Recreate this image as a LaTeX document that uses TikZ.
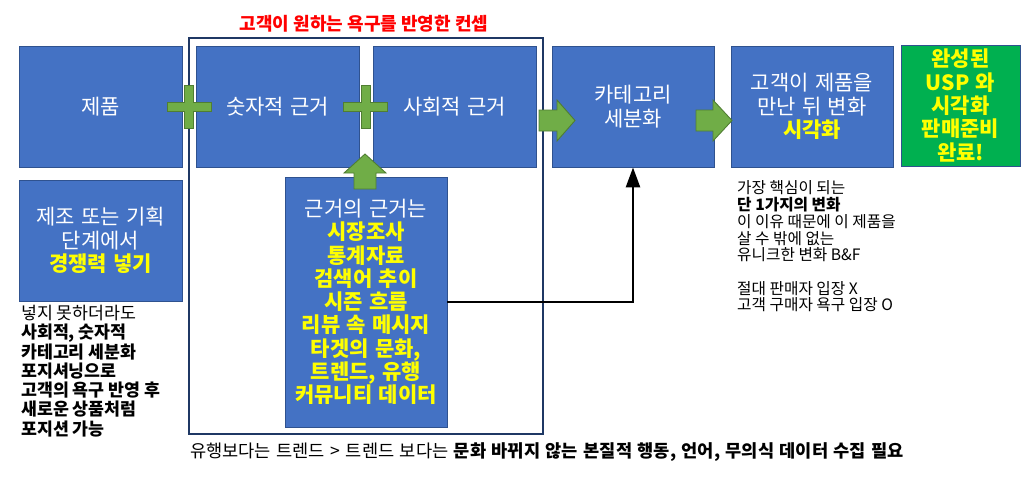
\documentclass[tikz,border=0pt]{standalone}
\usepackage{fontspec}
\setmainfont{Noto Sans CJK KR}
\usetikzlibrary{calc,arrows.meta}
\definecolor{boxblue}{HTML}{4472C4}
\definecolor{boxline}{HTML}{2F528F}
\definecolor{arrgreen}{HTML}{70AD47}
\definecolor{arrline}{HTML}{507E32}
\definecolor{donegreen}{HTML}{00B050}
\definecolor{framenavy}{HTML}{1F3864}
\definecolor{hiyellow}{HTML}{FFFF00}
\newcommand\myboxfont{\fontsize{21}{23.3}\selectfont\spaceskip=0.3em\relax}
\newcommand\mybottomfont{\fontsize{17.6}{19}\selectfont\spaceskip=0.31em\relax}
\newcommand\myhl[1]{{\bfseries\color{hiyellow}#1}}
\tikzset{
  bluebox/.style={draw=boxline, line width=0.8pt, fill=boxblue, text=white,
    inner sep=0pt, align=center, font=\myboxfont},
  donebox/.style={draw=boxline, line width=0.8pt, fill=donegreen, text=hiyellow,
    inner sep=0pt, align=center, font=\myboxfont\bfseries},
  framebox/.style={draw=framenavy, line width=2pt, inner sep=0pt},
  greenshape/.style={fill=arrgreen, draw=arrline, line width=0.9pt, line join=miter},
  titletext/.style={text=red, font=\fontsize{18}{20}\selectfont\bfseries, inner sep=0pt},
  leftnote/.style={align=left, inner sep=0pt, font=\fontsize{17.3}{19.3}\selectfont},
  rightnote/.style={align=left, inner sep=0pt, font=\fontsize{15.7}{16.7}\selectfont},
  bottomnote/.style={inner sep=0pt, align=left, font=\mybottomfont},
  linkarrow/.style={line width=2.6pt, -{Triangle[length=20pt,width=14pt]}}
}
\begin{document}
\begin{tikzpicture}[x=1pt,y=-1pt]
\useasboundingbox (0,0) rectangle (1024,491);
\fill[white] (0,0) rectangle (1024,491);

% title and frame
\node[titletext] (title) at (364,24) {고객이 원하는 욕구를 반영한 컨셉};
\node[framebox, minimum width=354, minimum height=396] (frame) at (366,236) {};

% top row
\node[bluebox, minimum width=163, minimum height=121] (p1) at (100.5,106.5) {제품};
\node[bluebox, minimum width=163, minimum height=121] (p2) at (277.5,106.5) {숫자적 근거};
\node[bluebox, minimum width=163, minimum height=121] (p3) at (454.5,106.5) {사회적 근거};
\node[bluebox, minimum width=162, minimum height=121] (p4) at (633,106.5) {카테고리\\세분화};
\node[bluebox, minimum width=162, minimum height=121] (p5) at (812,106.5) {고객이 제품을\\만난 뒤 변화\\\myhl{시각화}};
\node[donebox, minimum width=119, minimum height=121] (p6) at (960.5,105.5) {완성된\\USP 와\\시각화\\판매준비\\완료!};

% lower boxes
\node[bluebox, minimum width=163, minimum height=121] (p7) at (100.5,240.5) {제조 또는 기획\\단계에서\\\myhl{경쟁력 넣기}};
\node[bluebox, minimum width=162, minimum height=250] (p8) at (366,302) {근거의 근거는\\\myhl{시장조사}\\\myhl{통계자료}\\\myhl{검색어 추이}\\\myhl{시즌 흐름}\\\myhl{리뷰 속 메시지}\\\myhl{타겟의 문화,}\\\myhl{트렌드, 유행}\\\myhl{커뮤니티 데이터}};

% plus signs
\coordinate (c1) at (189,107);
\coordinate (c2) at (365.5,107);
\foreach \c in {c1,c2}{
  \path[greenshape] (\c) ++(-22,-4.5) -- ++(17.5,0) -- ++(0,-17) -- ++(9,0) -- ++(0,17)
    -- ++(17.5,0) -- ++(0,9) -- ++(-17.5,0) -- ++(0,17) -- ++(-9,0) -- ++(0,-17)
    -- ++(-17.5,0) -- cycle;
}

% block arrows
\path[greenshape] (539,110) -- (557,110) -- (557,100) -- (575,120.5) -- (557,141)
  -- (557,131) -- (539,131) -- cycle;
\path[greenshape] (696,110) -- (713,110) -- (713,100) -- (732,120.5) -- (713,141)
  -- (713,131) -- (696,131) -- cycle;
\path[greenshape] (354,189) -- (354,173) -- (344,173) -- (365,154) -- (386,173)
  -- (376,173) -- (376,189) -- cycle;

% connector
\draw[linkarrow] (p8.east) -| (p4.south);

% notes
\node[leftnote, anchor=west] (n1) at (21,371) {넣지 못하더라도\\\textbf{사회적, 숫자적}\\\textbf{카테고리 세분화}\\\textbf{포지셔닝으로}\\\textbf{고객의 욕구 반영 후}\\\textbf{새로운 상품처럼}\\\textbf{포지션 가능}};
\node[rightnote, anchor=west] (n2) at (737,246.5) {가장 핵심이 되는\\\textbf{단 1가지의 변화}\\이 이유 때문에 이 제품을\\살 수 밖에 없는\\유니크한 변화 B\&F\\[16.7pt]절대 판매자 입장 X\\고객 구매자 욕구 입장 O};
\node[bottomnote, anchor=west] (n3) at (190,452) {유행보다는 트렌드 > 트렌드 보다는 \textbf{문화 바뀌지 않는 본질적 행동, 언어, 무의식 데이터 수집 필요}};
\end{tikzpicture}
\end{document}
